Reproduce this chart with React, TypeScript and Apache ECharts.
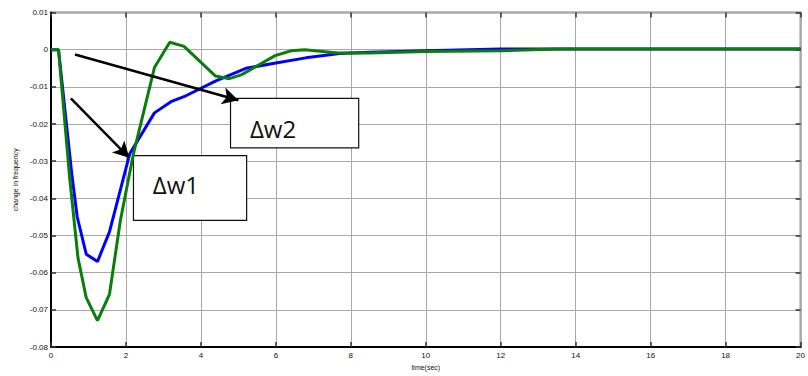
import React, { useEffect, useRef } from "react";
import * as echarts from "echarts";

// Δw1 (blue) response samples
const blueTime = [0, 0.2, 0.55, 0.7, 0.94, 1.24, 1.56, 2.1, 2.76, 3.2, 3.6, 4.4, 5.2, 6.0, 6.8, 7.7, 8.5, 10, 12, 20];
const blueValue = [0, 0, -0.033, -0.045, -0.055, -0.057, -0.049, -0.028, -0.017, -0.014, -0.0124, -0.0084, -0.005, -0.0036, -0.0022, -0.001, -0.0007, -0.0003, 0.0002, 0.0002];

// Δw2 (green) response samples
const greenTime = [0, 0.2, 0.5, 0.72, 0.94, 1.24, 1.56, 1.85, 2.2, 2.76, 3.17, 3.55, 4.39, 4.76, 5.09, 5.98, 6.41, 6.77, 7.66, 8.5, 10, 12, 13.5, 20];
const greenValue = [0, 0, -0.0347, -0.056, -0.0667, -0.0729, -0.0658, -0.046, -0.028, -0.0048, 0.002, 0.0009, -0.0071, -0.0078, -0.0067, -0.0016, -0.0003, 0, -0.0009, -0.0009, -0.0005, -0.0003, 0.0002, 0.0002];

// annotation labels and their boxes / arrows (data coordinates)
const boxLabels = ["Δw1", "Δw2"];
const boxTimes = [[2.2, 5.22], [4.79, 8.21]];
const boxValues = [[-0.0285, -0.0459], [-0.0131, -0.0264]];
const arrowFrom = [[0.53, -0.0131], [0.64, -0.0013]];
const arrowTo = [[2.09, -0.0291], [5.0, -0.0136]];

const xTicks = { min: 0, max: 20, interval: 2 };
const yTicks = { min: -0.08, max: 0.01, interval: 0.01 };

const pairs = (t: number[], v: number[]) => t.map((x, i) => [x, v[i]]);

export default function App() {
  const ref = useRef<HTMLDivElement>(null);
  useEffect(() => {
    if (!ref.current) return;
    const chart = echarts.init(ref.current, null, { renderer: "svg" });
    const font = "Liberation Sans, Arial, sans-serif";
    const gridLine = { show: true, lineStyle: { color: "#a8a8a8", width: 1 } };
    const tick = { show: true, inside: true, length: 5, lineStyle: { color: "#333", width: 1.5 } };
    const yFmt = (v: number) => (Math.abs(v) < 1e-9 ? "0" : v.toFixed(2));
    chart.setOption({
      animation: false,
      backgroundColor: "#fff",
      grid: {
        left: 51, right: 2, top: 12.5, bottom: 26,
        show: true, borderColor: "#000", borderWidth: 1.5, backgroundColor: "transparent",
      },
      xAxis: [
        {
          type: "value", ...xTicks,
          name: "time(sec)", nameLocation: "middle", nameGap: 12,
          nameTextStyle: { fontSize: 7, color: "#111", fontFamily: font },
          axisLine: { show: true, onZero: false, lineStyle: { color: "#000", width: 2 } },
          axisTick: tick,
          axisLabel: { fontSize: 8, color: "#111", margin: 4, fontFamily: font },
          splitLine: gridLine,
        },
        {
          type: "value", ...xTicks, position: "top",
          axisLine: { show: false, onZero: false }, axisTick: tick, axisLabel: { show: false }, splitLine: { show: false },
        },
      ],
      yAxis: [
        {
          type: "value", ...yTicks,
          name: "change in frequency", nameLocation: "middle", nameGap: 31,
          nameTextStyle: { fontSize: 7, color: "#111", fontFamily: font },
          axisLine: { show: true, onZero: false, lineStyle: { color: "#000", width: 2 } },
          axisTick: tick,
          axisLabel: { fontSize: 8, color: "#111", margin: 3, fontFamily: font, formatter: yFmt },
          splitLine: gridLine,
        },
        {
          type: "value", ...yTicks, position: "right",
          axisLine: { show: false, onZero: false }, axisTick: tick, axisLabel: { show: false }, splitLine: { show: false },
        },
      ],
      series: [
        {
          type: "line", name: "Δw1", data: pairs(blueTime, blueValue), showSymbol: false, z: 2,
          lineStyle: { color: "#0000ff", width: 3 }, itemStyle: { color: "#0000ff" },
          markArea: {
            silent: true,
            itemStyle: { color: "#fff", opacity: 1, borderColor: "#111", borderWidth: 1.2 },
            label: { show: true, position: "insideLeft", distance: 20, fontSize: 24, color: "#111", fontFamily: "Open Sans, sans-serif" },
            data: boxLabels.map((name, i) => [
              { name, xAxis: boxTimes[i][0], yAxis: boxValues[i][0], label: { offset: [0, i === 0 ? -3 : 5] } },
              { xAxis: boxTimes[i][1], yAxis: boxValues[i][1] },
            ]),
          },
        },
        {
          type: "line", name: "Δw2", data: pairs(greenTime, greenValue), showSymbol: false, z: 3,
          lineStyle: { color: "#0a7d0a", width: 3 }, itemStyle: { color: "#0a7d0a" },
          markLine: {
            silent: true, symbol: ["none", "arrow"], symbolSize: [13, 16],
            lineStyle: { color: "#000", width: 2.5, type: "solid" },
            label: { show: false },
            data: arrowFrom.map((f, i) => [
              { coord: f },
              { coord: arrowTo[i] },
            ]),
          },
        },
      ],
    });
    return () => chart.dispose();
  }, []);
  return <div ref={ref} style={{ position: "fixed", left: 0, top: 0, width: 808, height: 376 }} />;
}
